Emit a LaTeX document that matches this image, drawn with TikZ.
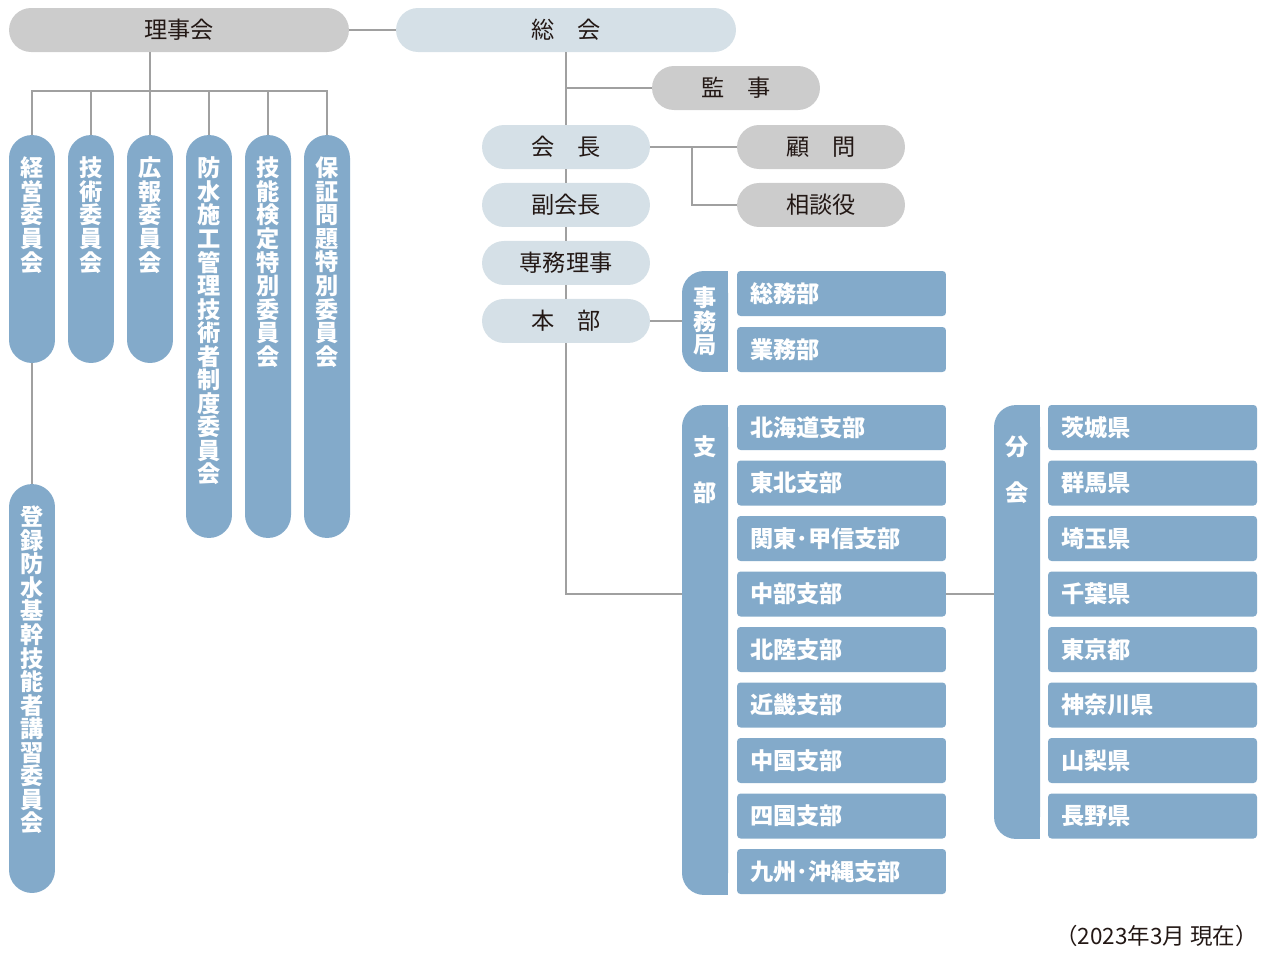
\documentclass[tikz,border=0pt]{standalone}
\usepackage{fontspec}
\setmainfont{Noto Sans CJK JP}
\usepackage{tikz}
\usetikzlibrary{positioning}
\definecolor{pillgray}{HTML}{CCCCCC}
\definecolor{pillpale}{HTML}{D5E0E7}
\definecolor{boxblue}{HTML}{83AACA}
\definecolor{linegray}{HTML}{A0A0A0}
\definecolor{inkblack}{HTML}{231815}
\tikzstyle{pill} = [rectangle, rounded corners=0.44cm, minimum height=0.88cm, text centered, inner sep=0pt, text=inkblack, font=\fontsize{13.2}{15}\selectfont]
\tikzstyle{bigpill} = [pill, minimum width=6.8cm]
\tikzstyle{midpill} = [pill, minimum width=3.36cm]
\tikzstyle{vpill} = [rectangle, rounded corners=0.46cm, minimum width=0.92cm, inner sep=0pt, fill=boxblue]
\tikzstyle{vtext} = [anchor=north, align=center, inner sep=0pt, text=white, font=\fontsize{13.2}{13.4}\selectfont\bfseries]
\tikzstyle{vlab} = [vtext, yshift=-0.44cm]
\tikzstyle{tab} = [rectangle, rounded corners=0.44cm, minimum width=0.92cm, inner sep=0pt, fill=boxblue]
\tikzstyle{unit} = [rectangle, rounded corners=2pt, minimum height=0.9cm, text width=3.66cm, inner xsep=0.26cm, inner ysep=0pt, align=left, fill=boxblue, text=white, font=\fontsize{13.2}{15}\selectfont\bfseries]
\tikzstyle{line} = [linegray, line width=1.1pt]

\begin{document}
\begin{tikzpicture}[x=0.02cm, y=-0.02cm, node distance=1.16cm]
	\useasboundingbox (0,0) rectangle (1270,954);
	% top row
	\node (rijikai) [bigpill, fill=pillgray] at (179,30) {理事会};
	\node (sokai) [bigpill, fill=pillpale] at (566,30) {総　会};
	\node (kanji) [midpill, fill=pillgray] at (736,88) {監　事};
	\node (kaicho) [midpill, fill=pillpale] at (566,147) {会　長};
	\node (fuku) [midpill, fill=pillpale, below of=kaicho] {副会長};
	\node (senmu) [midpill, fill=pillpale, below of=fuku] {専務理事};
	\node (honbu) [midpill, fill=pillpale, below of=senmu] {本　部};
	\node (komon) [midpill, fill=pillgray] at (821,147) {顧　問};
	\node (sodan) [midpill, fill=pillgray, below of=komon] {相談役};
	\coordinate (split) at (692,147);
	\draw [line] (rijikai) -- (sokai);
	\draw [line] (sokai) -- (kaicho);
	\draw [line] (kanji.west) -- (kanji.west -| sokai.south);
	\draw [line] (kaicho) -- (fuku);
	\draw [line] (fuku) -- (senmu);
	\draw [line] (senmu) -- (honbu);
	\draw [line] (kaicho.east) -- (komon.west);
	\draw [line] (split) |- (sodan.west);
	% committees
	\node (c1) [vpill, minimum height=4.56cm, label={[vlab]north:{経\\営\\委\\員\\会}}] at (32,249) {};
	\node (c2) [vpill, minimum height=4.56cm, label={[vlab]north:{技\\術\\委\\員\\会}}] at (91,249) {};
	\node (c3) [vpill, minimum height=4.56cm, label={[vlab]north:{広\\報\\委\\員\\会}}] at (150,249) {};
	\node (c4) [vpill, minimum height=8.06cm, label={[vlab]north:{防\\水\\施\\工\\管\\理\\技\\術\\者\\制\\度\\委\\員\\会}}] at (209,336.5) {};
	\node (c5) [vpill, minimum height=8.06cm, label={[vlab]north:{技\\能\\検\\定\\特\\別\\委\\員\\会}}] at (268,336.5) {};
	\node (c6) [vpill, minimum height=8.06cm, label={[vlab]north:{保\\証\\問\\題\\特\\別\\委\\員\\会}}] at (327,336.5) {};
	\node (reg) [vpill, minimum height=8.18cm, label={[vlab]north:{登\\録\\防\\水\\基\\幹\\技\\能\\者\\講\\習\\委\\員\\会}}] at (32,688.5) {};
	\coordinate (hub) at (150,91);
	\draw [line] (rijikai.south -| c3.north) -- (c3.north);
	\draw [line] (c1.north) |- (hub) -| (c6.north);
	\draw [line] (c2.north) -- (c2.north |- hub);
	\draw [line] (c4.north) -- (c4.north |- hub);
	\draw [line] (c5.north) -- (c5.north |- hub);
	\draw [line] (c1) -- (reg);
	% secretariat
	\node (jimu) [tab, minimum height=2.02cm] at (705,321.5) {};
	\fill [boxblue] (jimu.north) rectangle (jimu.south east);
	\node (jimutxt) [vtext, anchor=center] at (jimu.center) {事\\務\\局};
	\node (somu) [unit] at (841.5,293.5) {総務部};
	\node (gyomu) [unit] at (841.5,349.5) {業務部};
	\draw [line] (honbu.east) -- (honbu.east -| jimu.west);
	% branches
	\node (shibu) [tab, minimum height=9.8cm] at (705,650) {};
	\fill [boxblue] (shibu.north) rectangle (shibu.south east);
	\node (shibutxt) [vtext] at (705,435) {支\\[0.46cm]部};
	\foreach \name [count=\i] in {北海道支部,東北支部,関東･甲信支部,中部支部,北陸支部,近畿支部,中国支部,四国支部,九州･沖縄支部}
		\node (br\i) [unit] at (841.5,{427.5+55.5*(\i-1)}) {\name};
	\draw [line] (honbu.south) |- (br4.west -| shibu.west);
	% sub-branches
	\node (bunkai) [tab, minimum height=8.68cm] at (1017,622) {};
	\fill [boxblue] (bunkai.north) rectangle (bunkai.south east);
	\node (bunkaitxt) [vtext] at (1017,435) {分\\[0.46cm]会};
	\foreach \name [count=\i] in {茨城県,群馬県,埼玉県,千葉県,東京都,神奈川県,山梨県,長野県}
		\node (pr\i) [unit] at (1152.5,{427.5+55.5*(\i-1)}) {\name};
	\draw [line] (br4.east) -- (br4.east -| bunkai.west);
	\node (asof) [anchor=east, inner sep=0pt, text=inkblack, font=\fontsize{12.8}{14}\selectfont] at (1258,936) {（2023年3月 現在）};
\end{tikzpicture}
\end{document}
